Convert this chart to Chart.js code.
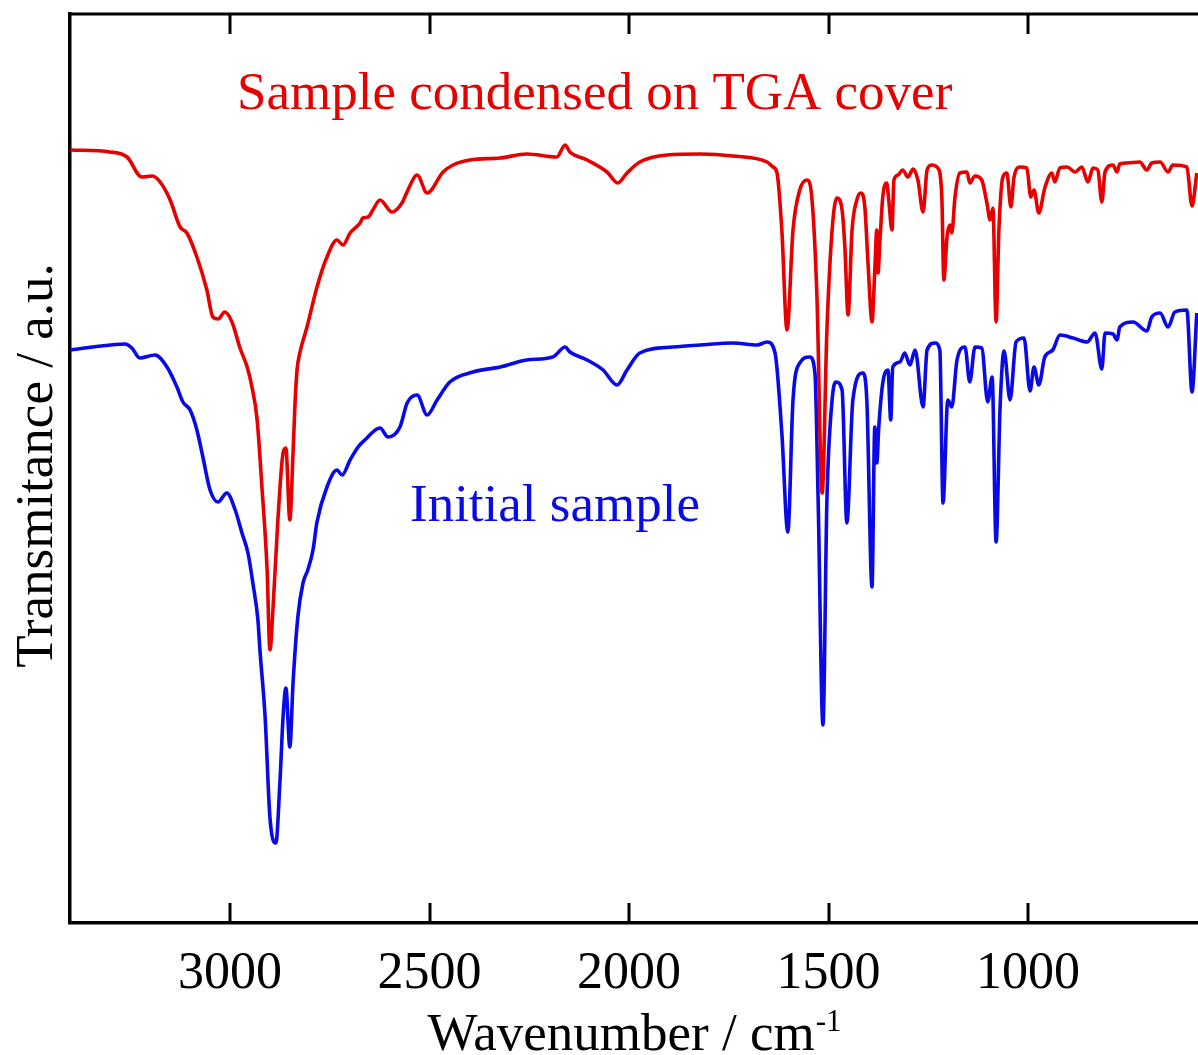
<!DOCTYPE html>
<html><head><meta charset="utf-8">
<script src="https://cdn.jsdelivr.net/npm/chart.js@4.4.0/dist/chart.umd.min.js"></script>
<style>html,body{margin:0;padding:0;background:#fff;overflow:hidden}#wrap{width:1198px;height:1055px}</style>
</head><body><div id="wrap"><canvas id="c" width="1198" height="1055"></canvas></div>
<script>
// ---- data (wavenumber in cm-1, transmittance in a.u.) ----
const xTickValues = [3000, 2500, 2000, 1500, 1000];
const seriesNames = ["Sample condensed on TGA cover", "Initial sample"];

const redWavenumber = [3400,3301,3258,3221,3195,3175,3150,3125,3108,3083,3058,3043,3030,3013,2995,2975,2957,2945,2932,2920,2907,2900,2892,2880,2867,2860,2850,2842,2837,2832,2825,2807,2782,2757,2732,2717,2699,2674,2667,2654,2642,2624,2594,2569,2554,2531,2506,2466,2441,2399,2323,2256,2181,2160,2148,2105,2055,2028,2005,1973,1905,1822,1740,1654,1639,1629,1617,1604,1589,1572,1554,1542,1529,1516,1504,1491,1479,1466,1459,1451,1441,1429,1419,1409,1401,1391,1384,1379,1376,1371,1364,1354,1349,1341,1336,1326,1314,1301,1288,1276,1263,1253,1241,1226,1216,1211,1203,1196,1191,1183,1171,1153,1146,1133,1116,1103,1095,1088,1080,1073,1063,1053,1043,1035,1020,1003,993,985,973,958,940,933,920,902,882,865,850,837,825,815,807,787,777,770,752,720,702,690,669,649,637,602,589,577];
const redTransmittance = [77.3,77.1,76.6,74.6,74.7,74.1,72.3,69.6,69.0,66.6,63.3,60.6,60.4,61.1,60.1,57.5,55.6,53.6,50.3,43.6,35.3,27.3,31.6,40.3,47.0,47.5,40.3,47.0,52.0,55.3,57.0,59.6,63.6,66.6,68.3,67.8,69.0,70.0,70.5,70.6,71.3,72.3,71.1,72.0,73.3,74.8,73.0,75.1,75.8,76.3,76.5,76.9,76.6,77.8,77.1,76.3,75.1,74.0,75.0,76.1,76.8,76.9,76.7,76.1,75.6,75.0,69.3,59.3,69.3,73.3,74.3,72.6,62.6,43.0,59.3,69.3,72.5,71.3,67.6,60.8,69.3,72.3,73.0,71.6,66.0,60.1,65.3,69.3,65.0,68.3,72.6,74.0,72.3,69.3,74.3,74.8,75.3,74.6,75.4,74.3,71.1,75.3,75.8,75.5,72.6,64.3,68.6,69.8,69.0,72.6,75.0,75.1,74.0,74.7,74.3,72.0,70.3,71.5,60.1,69.3,74.6,75.0,71.6,74.6,75.6,75.5,72.6,73.3,71.0,73.5,75.0,74.1,75.5,75.6,75.1,75.6,74.1,75.5,75.3,72.1,75.1,75.8,75.1,75.9,76.0,76.1,75.3,76.0,76.1,75.1,75.8,75.6,71.7,75.0];

const blueWavenumber = [3400,3343,3263,3246,3226,3188,3158,3133,3118,3100,3083,3068,3050,3030,3008,2987,2970,2955,2942,2930,2925,2912,2900,2885,2875,2867,2860,2850,2842,2830,2817,2805,2792,2782,2757,2732,2719,2699,2679,2662,2624,2604,2574,2556,2531,2506,2481,2449,2391,2323,2256,2191,2160,2148,2105,2065,2030,2005,1973,1890,1822,1740,1679,1654,1634,1617,1602,1589,1572,1547,1534,1526,1514,1504,1491,1481,1466,1454,1439,1414,1404,1391,1384,1379,1374,1364,1351,1344,1339,1321,1309,1296,1283,1263,1253,1233,1221,1213,1201,1191,1178,1158,1146,1133,1116,1101,1090,1080,1070,1060,1045,1030,1010,995,985,973,958,938,920,887,852,832,815,807,787,777,770,737,702,690,669,649,632,602,589,577];
const blueTransmittance = [57.3,57.6,57.9,57.5,56.5,56.8,55.6,53.6,52.1,51.3,49.3,46.6,43.3,42.1,43.0,41.3,39.0,37.0,33.8,30.3,27.3,20.6,10.6,8.0,14.0,20.6,23.5,17.6,24.0,30.6,34.0,35.3,37.3,40.1,43.6,45.3,44.8,46.3,47.6,48.3,49.5,48.6,49.6,52.0,52.8,50.8,52.3,54.1,55.1,55.6,56.3,56.6,57.6,57.1,56.3,55.3,53.8,55.3,57.0,57.6,57.8,58.0,57.8,58.1,57.0,49.0,39.1,52.3,56.0,56.6,55.0,42.3,19.8,42.3,52.3,54.1,53.3,40.0,52.3,55.0,52.3,33.6,49.6,46.0,49.6,54.0,55.3,50.3,55.6,56.1,57.0,55.8,57.3,51.6,57.3,58.0,57.3,42.0,52.3,51.6,56.3,57.6,54.1,57.6,57.5,52.1,54.6,38.1,51.6,57.2,52.3,58.1,58.5,53.2,55.6,53.8,56.6,57.3,58.8,58.5,58.1,59.0,55.4,59.0,58.9,58.3,59.6,60.1,59.2,60.6,61.0,59.6,61.1,61.3,53.1,61.0];

const xMin = 574, xMax = 3401, yMin = 0, yMax = 90.9;

const toPoints = (xs, ys) => xs.map((x, i) => ({x: x, y: ys[i]}));
const SERIF = "'Liberation Serif', 'Times New Roman', serif";

const decorPlugin = {
  id: 'decor',
  afterDraw(chart) {
    const ctx = chart.ctx, a = chart.chartArea, xs = chart.scales.x;
    ctx.save();
    ctx.strokeStyle = '#000';
    ctx.lineWidth = 3;
    ctx.lineCap = 'butt';
    // top frame line
    ctx.beginPath(); ctx.moveTo(a.left - 1.5, a.top); ctx.lineTo(a.right, a.top); ctx.stroke();
    // inward ticks top and bottom
    xs.ticks.forEach(t => {
      const px = Math.round(xs.getPixelForValue(t.value));
      ctx.beginPath(); ctx.moveTo(px, a.top); ctx.lineTo(px, a.top + 20); ctx.stroke();
      ctx.beginPath(); ctx.moveTo(px, a.bottom); ctx.lineTo(px, a.bottom - 20); ctx.stroke();
    });
    // annotations
    ctx.font = '53px ' + SERIF;
    ctx.textBaseline = 'alphabetic';
    ctx.textAlign = 'left';
    ctx.fillStyle = '#e60000';
    ctx.fillText(seriesNames[0], 237, 109);
    ctx.fillStyle = '#0a0ae6';
    ctx.fillText(seriesNames[1], 410, 521);
    // x axis title with superscript
    ctx.fillStyle = '#000';
    const main = 'Wavenumber / cm', sup = '-1';
    ctx.font = '53px ' + SERIF;
    const w1 = ctx.measureText(main).width;
    ctx.font = '31px ' + SERIF;
    const w2 = ctx.measureText(sup).width;
    const cx = (a.left + a.right) / 2;
    const x0 = cx - (w1 + w2) / 2;
    ctx.font = '53px ' + SERIF;
    ctx.fillText(main, x0, 1050);
    ctx.font = '31px ' + SERIF;
    ctx.fillText(sup, x0 + w1 + 1, 1031);
    // y axis title
    ctx.font = '53px ' + SERIF;
    ctx.translate(52, (a.top + a.bottom) / 2 - 3);
    ctx.rotate(-Math.PI / 2);
    ctx.textAlign = 'center';
    ctx.fillText('Transmitance / a.u.', 0, 0);
    ctx.restore();
  }
};

new Chart(document.getElementById('c'), {
  type: 'line',
  data: {
    datasets: [
      {label: seriesNames[0], data: toPoints(redWavenumber, redTransmittance), borderColor: '#e60000', borderWidth: 3.6, pointRadius: 0, cubicInterpolationMode: 'monotone', fill: false},
      {label: seriesNames[1], data: toPoints(blueWavenumber, blueTransmittance), borderColor: '#0a0ae6', borderWidth: 3.6, pointRadius: 0, cubicInterpolationMode: 'monotone', fill: false}
    ]
  },
  options: {
    responsive: false,
    animation: false,
    devicePixelRatio: 1,
    layout: {padding: {top: 14, right: 0, left: 0, bottom: 0}},
    plugins: {legend: {display: false}, tooltip: {enabled: false}},
    scales: {
      x: {
        type: 'linear', reverse: true, min: xMin, max: xMax,
        afterFit: s => { s.height = 132; },
        afterBuildTicks: s => { s.ticks = xTickValues.map(v => ({value: v})); },
        grid: {display: false, drawTicks: false},
        border: {display: true, color: '#000', width: 3.5},
        ticks: {color: '#000', padding: 20, maxRotation: 0, autoSkip: false, font: {family: SERIF, size: 52}, callback: v => String(v)}
      },
      y: {
        type: 'linear', min: yMin, max: yMax,
        afterFit: s => { s.width = 70; },
        grid: {display: false, drawTicks: false},
        border: {display: true, color: '#000', width: 3.5},
        ticks: {display: false}
      }
    }
  },
  plugins: [decorPlugin]
});
</script>
</body></html>
